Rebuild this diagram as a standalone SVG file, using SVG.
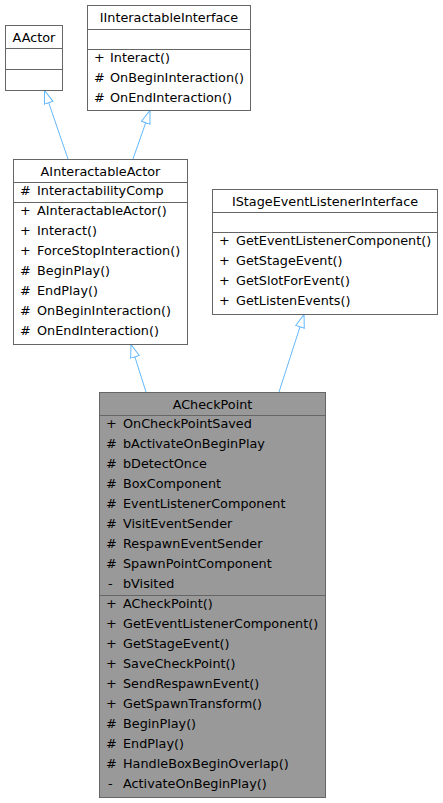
<svg xmlns="http://www.w3.org/2000/svg" width="443" height="803" viewBox="0 0 443 803">
<defs>
<style>
.box{fill:#ffffff;stroke:#666666;stroke-width:1}
.main{fill:#999999;stroke:#666666;stroke-width:1}
.sep{stroke:#666666;stroke-width:1}
text{font-family:"DejaVu Sans","Liberation Sans",sans-serif;font-size:12.8px;fill:#000000}
.t{text-anchor:middle}
.edge{stroke:#63b8ff;stroke-width:1;fill:none;marker-end:url(#tri)}
</style>
<marker id="tri" markerUnits="userSpaceOnUse" markerWidth="15" markerHeight="11" refX="13.5" refY="5.5" orient="auto">
<path d="M0.5,1 L13.5,5.5 L0.5,10 Z" fill="#ffffff" stroke="#63b8ff" stroke-width="1"/>
</marker>
</defs>
<rect width="443" height="803" fill="#ffffff"/>
<g id="connectors">
<line class="edge" x1="68" y1="159" x2="44.5" y2="90.5"/>
<line class="edge" x1="133" y1="159" x2="150" y2="110.5"/>
<line class="edge" x1="146" y1="392" x2="131" y2="344.5"/>
<line class="edge" x1="279" y1="392" x2="304" y2="314.5"/>
</g>
<g id="AActor">
<rect class="box" x="5.5" y="25.5" width="57" height="65"/>
<line class="sep" x1="5.5" y1="48.5" x2="62.5" y2="48.5"/>
<line class="sep" x1="5.5" y1="69.5" x2="62.5" y2="69.5"/>
<text class="t" x="34" y="42">AActor</text>
</g>
<g id="IInteractableInterface">
<rect class="box" x="87.5" y="5.5" width="163" height="105"/>
<line class="sep" x1="87.5" y1="29.5" x2="250.5" y2="29.5"/>
<line class="sep" x1="87.5" y1="49.5" x2="250.5" y2="49.5"/>
<text class="t" x="169" y="22">IInteractableInterface</text>
<text x="94" y="62">+</text><text x="110" y="62">Interact()</text>
<text x="94" y="82">#</text><text x="110" y="82">OnBeginInteraction()</text>
<text x="94" y="102">#</text><text x="110" y="102">OnEndInteraction()</text>
</g>
<g id="AInteractableActor">
<rect class="box" x="13.5" y="159.5" width="174" height="185"/>
<line class="sep" x1="13.5" y1="182.5" x2="187.5" y2="182.5"/>
<line class="sep" x1="13.5" y1="202.5" x2="187.5" y2="202.5"/>
<text class="t" x="100.5" y="176">AInteractableActor</text>
<text x="20" y="195">#</text><text x="37" y="195">InteractabilityComp</text>
<text x="20" y="215">+</text><text x="37" y="215">AInteractableActor()</text>
<text x="20" y="235">+</text><text x="37" y="235">Interact()</text>
<text x="20" y="255">+</text><text x="37" y="255">ForceStopInteraction()</text>
<text x="20" y="275">#</text><text x="37" y="275">BeginPlay()</text>
<text x="20" y="295">#</text><text x="37" y="295">EndPlay()</text>
<text x="20" y="315">#</text><text x="37" y="315">OnBeginInteraction()</text>
<text x="20" y="335">#</text><text x="37" y="335">OnEndInteraction()</text>
</g>
<g id="IStageEventListenerInterface">
<rect class="box" x="212.5" y="189.5" width="225" height="125"/>
<line class="sep" x1="212.5" y1="212.5" x2="437.5" y2="212.5"/>
<line class="sep" x1="212.5" y1="232.5" x2="437.5" y2="232.5"/>
<text class="t" x="325" y="206">IStageEventListenerInterface</text>
<text x="219" y="245">+</text><text x="236" y="245">GetEventListenerComponent()</text>
<text x="219" y="265">+</text><text x="236" y="265">GetStageEvent()</text>
<text x="219" y="285">+</text><text x="236" y="285">GetSlotForEvent()</text>
<text x="219" y="305">+</text><text x="236" y="305">GetListenEvents()</text>
</g>
<g id="ACheckPoint">
<rect class="main" x="99.5" y="392.5" width="226" height="405"/>
<line class="sep" x1="99.5" y1="415.5" x2="325.5" y2="415.5"/>
<line class="sep" x1="99.5" y1="595.5" x2="325.5" y2="595.5"/>
<text class="t" x="212.5" y="409">ACheckPoint</text>
<text x="106" y="428">+</text><text x="123" y="428">OnCheckPointSaved</text>
<text x="106" y="448">#</text><text x="123" y="448">bActivateOnBeginPlay</text>
<text x="106" y="468">#</text><text x="123" y="468">bDetectOnce</text>
<text x="106" y="488">#</text><text x="123" y="488">BoxComponent</text>
<text x="106" y="508">#</text><text x="123" y="508">EventListenerComponent</text>
<text x="106" y="528">#</text><text x="123" y="528">VisitEventSender</text>
<text x="106" y="548">#</text><text x="123" y="548">RespawnEventSender</text>
<text x="106" y="568">#</text><text x="123" y="568">SpawnPointComponent</text>
<text x="108" y="588">-</text><text x="123" y="588">bVisited</text>
<text x="106" y="608">+</text><text x="123" y="608">ACheckPoint()</text>
<text x="106" y="628">+</text><text x="123" y="628">GetEventListenerComponent()</text>
<text x="106" y="648">+</text><text x="123" y="648">GetStageEvent()</text>
<text x="106" y="668">+</text><text x="123" y="668">SaveCheckPoint()</text>
<text x="106" y="688">+</text><text x="123" y="688">SendRespawnEvent()</text>
<text x="106" y="708">+</text><text x="123" y="708">GetSpawnTransform()</text>
<text x="106" y="728">#</text><text x="123" y="728">BeginPlay()</text>
<text x="106" y="748">#</text><text x="123" y="748">EndPlay()</text>
<text x="106" y="768">#</text><text x="123" y="768">HandleBoxBeginOverlap()</text>
<text x="108" y="788">-</text><text x="123" y="788">ActivateOnBeginPlay()</text>
</g>
</svg>
